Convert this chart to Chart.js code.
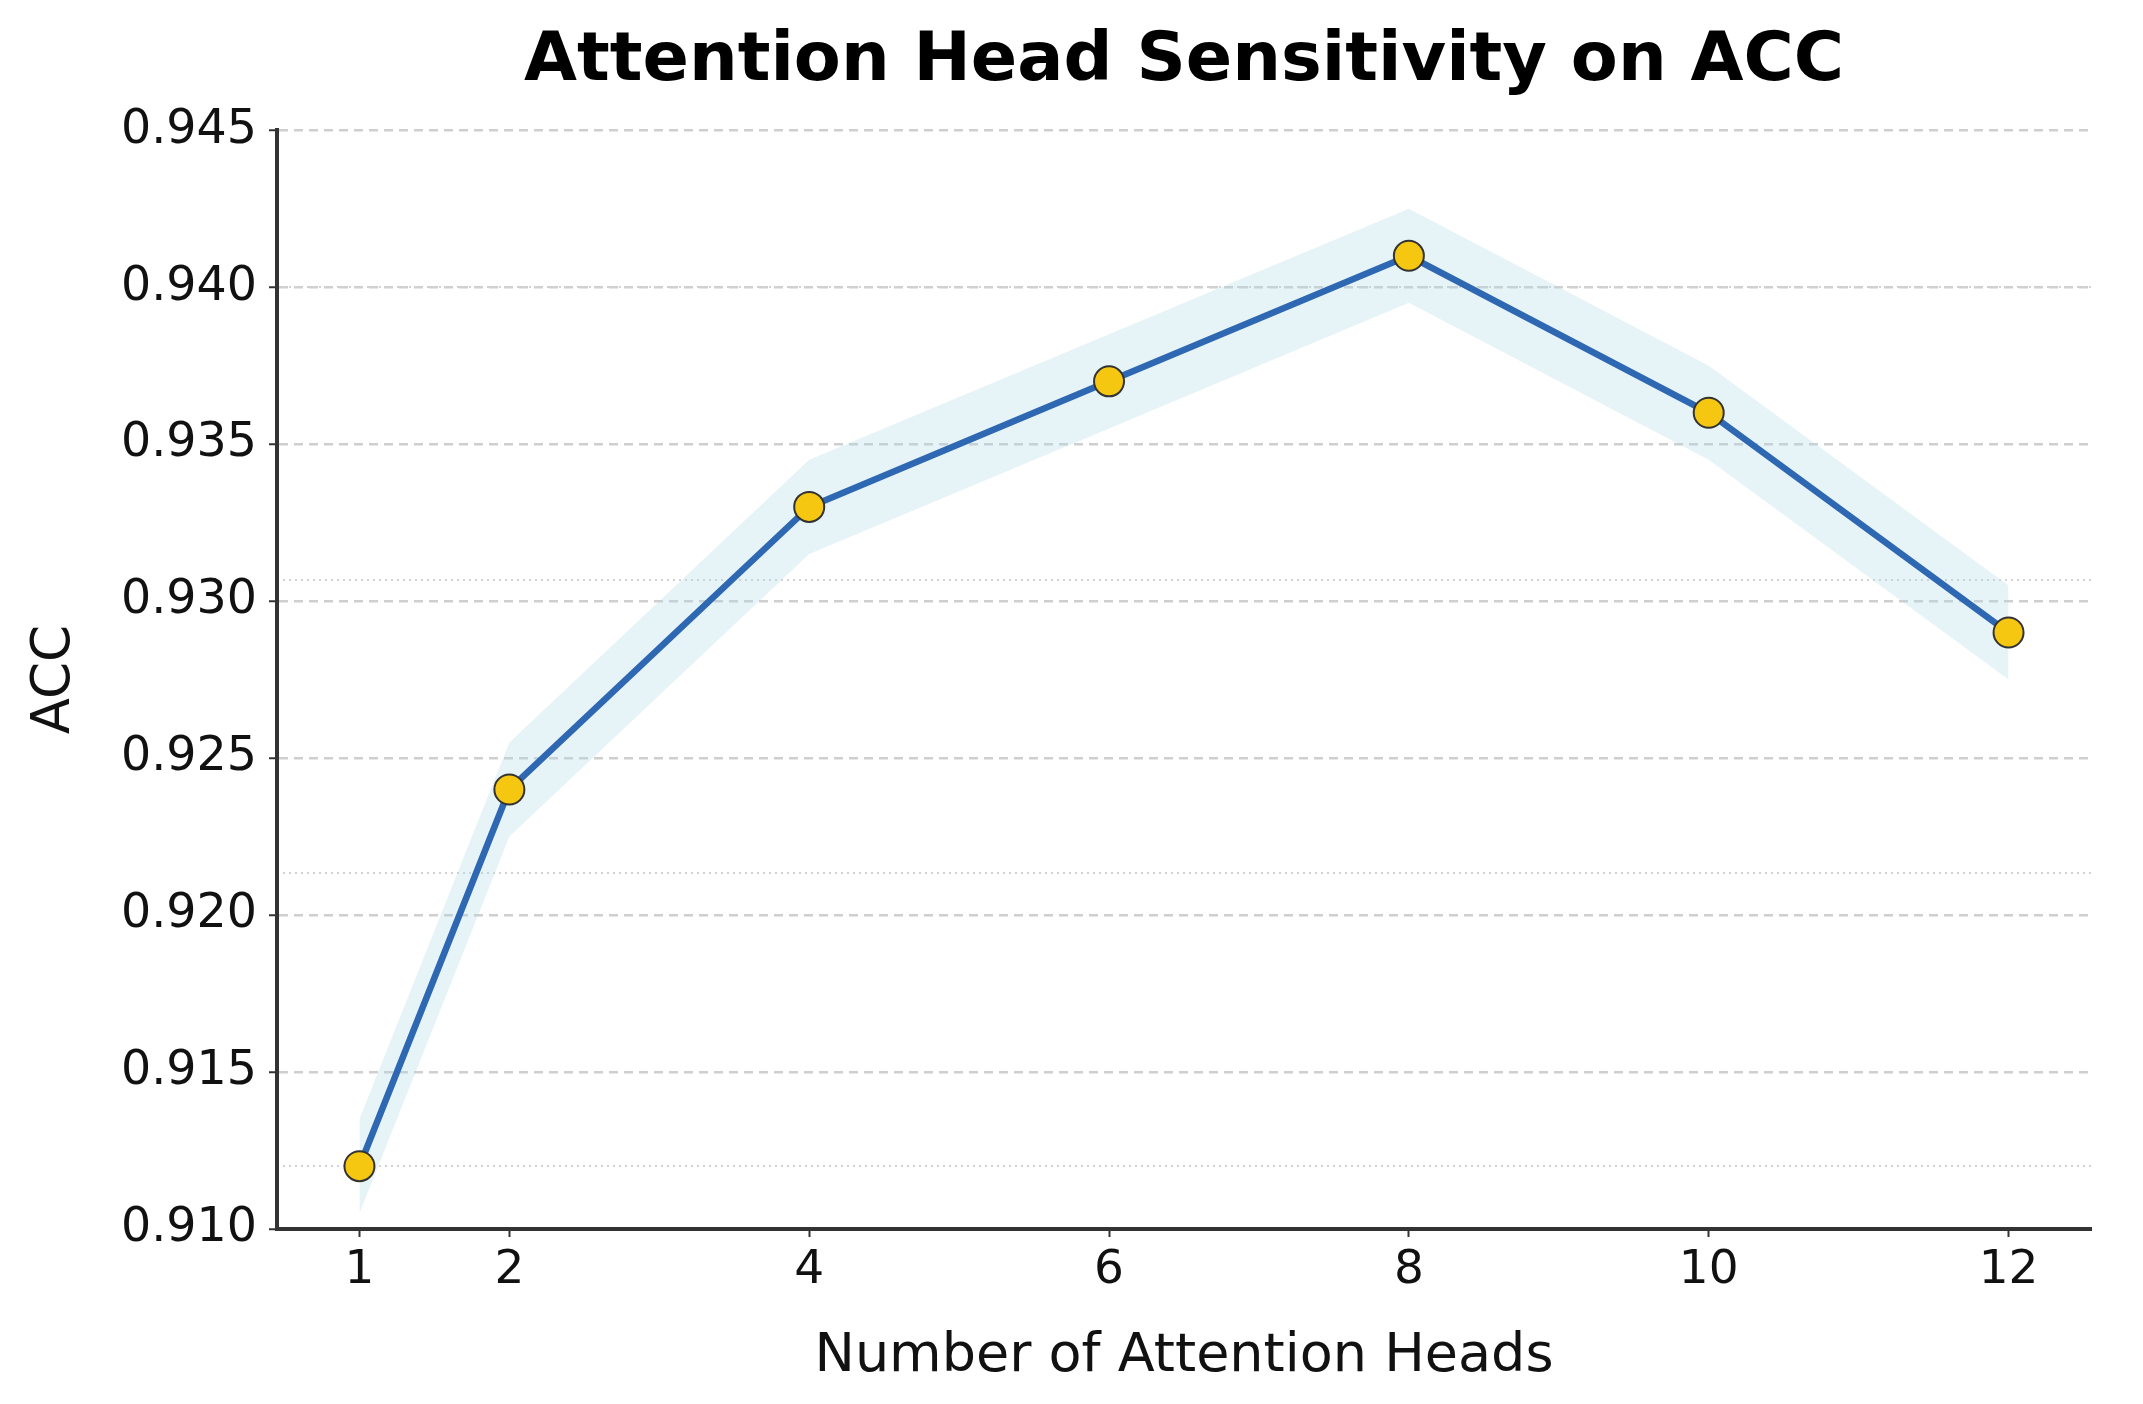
<!DOCTYPE html>
<html><head><meta charset="utf-8">
<script src="https://cdn.jsdelivr.net/npm/chart.js@4.4.1/dist/chart.umd.min.js"></script>
<style>html,body{margin:0;padding:0;background:#fff;} #wrap{width:2143px;height:1404px;}</style>
</head><body><div id="wrap"><canvas id="c" width="2143" height="1404"></canvas></div>
<script>
const heads = [1, 2, 4, 6, 8, 10, 12];
const acc = [0.912, 0.924, 0.933, 0.937, 0.941, 0.936, 0.929];
const accUpper = [0.9135, 0.9255, 0.9345, 0.9385, 0.9425, 0.9375, 0.9305];
const accLower = [0.9105, 0.9225, 0.9315, 0.9355, 0.9395, 0.9345, 0.9275];
const xTicks = [1, 2, 4, 6, 8, 10, 12];
const yTicks = [0.910, 0.915, 0.920, 0.925, 0.930, 0.935, 0.940, 0.945];
const yMinorLines = [0.912, 0.92133, 0.93067, 0.940];

const FONT = "'DejaVu Sans', sans-serif";
const pts = (ys) => heads.map((h, i) => ({x: h, y: ys[i]}));

new Chart(document.getElementById('c'), {
  type: 'line',
  data: {
    datasets: [
      { label: 'upper', data: pts(accUpper), borderWidth: 0, pointRadius: 0, fill: false, order: 3 },
      { label: 'lower', data: pts(accLower), borderWidth: 0, pointRadius: 0, fill: '-1',
        backgroundColor: 'rgba(173,216,230,0.3)', order: 2 },
      { label: 'ACC', data: pts(acc), borderColor: '#2F68B2', borderWidth: 6.5, tension: 0,
        pointRadius: 15, pointBackgroundColor: '#F5C710', pointBorderColor: '#333333',
        pointBorderWidth: 2, fill: false, order: 1 }
    ]
  },
  options: {
    responsive: false,
    devicePixelRatio: 1,
    animation: false,
    layout: { padding: { left: 0, right: 52, top: 0, bottom: 0 } },
    plugins: {
      legend: { display: false },
      tooltip: { enabled: false },
      title: {
        display: true, fullSize: false, text: 'Attention Head Sensitivity on ACC', color: '#000',
        font: { family: FONT, size: 68.5, weight: 'bold' },
        padding: { top: 21, bottom: 27 }
      }
    },
    scales: {
      x: {
        type: 'linear', min: 0.45, max: 12.55,
        afterBuildTicks: (s) => { s.ticks = xTicks.map(v => ({value: v})); },
        afterFit: (s) => { s.height = 175; },
        ticks: { color: '#111', font: { family: FONT, size: 47 }, padding: 6,
                 callback: (v) => String(v), maxRotation: 0, autoSkip: false },
        grid: { drawOnChartArea: false, drawTicks: true, tickLength: 8, tickColor: '#333', tickWidth: 2 },
        border: { display: true, color: '#333', width: 4 },
        title: { display: true, text: 'Number of Attention Heads', color: '#111',
                 font: { family: FONT, size: 54 }, padding: { top: 0, bottom: 15 } }
      },
      y: {
        type: 'linear', min: 0.910, max: 0.945, position: 'left',
        afterBuildTicks: (s) => { s.ticks = yTicks.map(v => ({value: v})); },
        afterFit: (s) => { s.width = 277; },
        ticks: { color: '#111', font: { family: FONT, size: 47.5 }, padding: 12,
                 callback: (v) => Number(v).toFixed(3) },
        grid: { color: '#cfcfcf', lineWidth: 2.5, drawTicks: true, tickLength: 8,
                tickColor: '#333', tickWidth: 2, tickBorderDash: [] },
        border: { display: true, color: '#333', width: 4, dash: [9, 6] },
        title: { display: true, text: 'ACC', color: '#111',
                 font: { family: FONT, size: 53 }, padding: { top: 23, bottom: 0 } }
      },
      yMinor: {
        type: 'linear', min: 0.910, max: 0.945, position: 'left',
        afterBuildTicks: (s) => { s.ticks = yMinorLines.map(v => ({value: v})); },
        afterFit: (s) => { s.width = 0; },
        ticks: { display: false },
        grid: { color: '#d2d2d2', lineWidth: 2, drawTicks: false },
        border: { display: false, dash: [2, 4] }
      }
    }
  }
});
</script></body></html>
